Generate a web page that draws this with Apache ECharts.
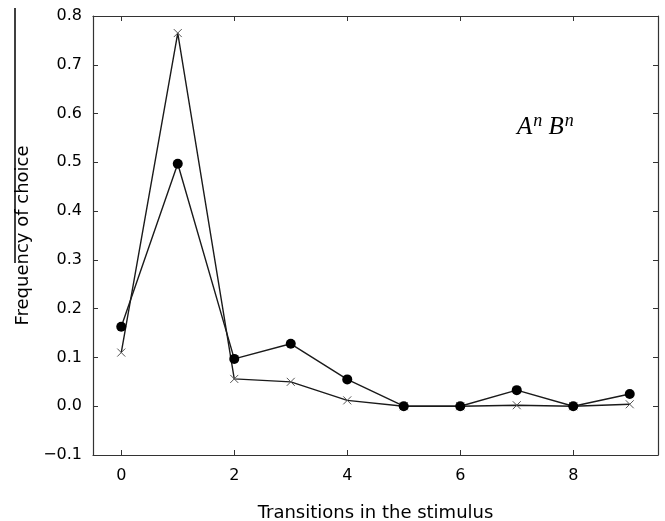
<!DOCTYPE html>
<html>
<head>
<meta charset="utf-8">
<script src="https://cdn.jsdelivr.net/npm/echarts@6/dist/echarts.min.js"></script>
<style>
  html, body { margin: 0; padding: 0; background: #fff; }
  #chart { width: 665px; height: 521px; }
</style>
</head>
<body>
<div id="chart"></div>
<script>
// transitions 0..9
var transitions = [0, 1, 2, 3, 4, 5, 6, 7, 8, 9];
// filled dots
var dotValues = [0.163, 0.497, 0.097, 0.128, 0.055, 0.0, 0.0, 0.033, 0.0, 0.025];
// crosses
var crossValues = [0.11, 0.765, 0.056, 0.05, 0.012, 0.0, 0.0, 0.002, 0.0, 0.004];
var xTicks = [0, 2, 4, 6, 8];

function pairs(vals) {
  return transitions.map(function (t, i) { return [t, vals[i]]; });
}

var chart = echarts.init(document.getElementById("chart"));
var font = "DejaVu Sans";
var frame = { show: true, onZero: false, lineStyle: { color: "#333", width: 1.2 } };

chart.setOption({
  animation: false,
  grid: { left: 93, right: 7, top: 16, bottom: 66, outerBoundsMode: "none", containLabel: false },
  xAxis: [
    {
      type: "value",
      min: -0.5,
      max: 9.5,
      axisLine: frame,
      splitLine: { show: false },
      axisTick: { show: true, inside: true, length: 5, customValues: xTicks, lineStyle: { color: "#333" } },
      axisLabel: { customValues: xTicks, color: "#000", fontFamily: font, fontSize: 16, margin: 13 },
      name: "Transitions in the stimulus",
      nameLocation: "middle",
      nameGap: 49,
      nameTextStyle: { color: "#000", fontFamily: font, fontSize: 18 }
    },
    {
      type: "value",
      position: "top",
      min: -0.5,
      max: 9.5,
      axisLine: frame,
      splitLine: { show: false },
      axisTick: { show: true, inside: true, length: 5, customValues: xTicks, lineStyle: { color: "#333" } },
      axisLabel: { show: false }
    }
  ],
  yAxis: [
    {
      type: "value",
      min: -0.1,
      max: 0.8,
      interval: 0.1,
      axisLine: frame,
      splitLine: { show: false },
      axisTick: { show: true, inside: true, length: 5, lineStyle: { color: "#333" } },
      axisLabel: {
        color: "#000", fontFamily: font, fontSize: 16, margin: 11,
        formatter: function (v) { return v < 0 ? "\u2212" + Math.abs(v).toFixed(1) : v.toFixed(1); }
      },
      name: "Frequency of choice",
      nameLocation: "middle",
      nameGap: 61,
      nameTextStyle: { color: "#000", fontFamily: font, fontSize: 18 }
    },
    {
      type: "value",
      position: "right",
      min: -0.1,
      max: 0.8,
      interval: 0.1,
      axisLine: frame,
      splitLine: { show: false },
      axisTick: { show: true, inside: true, length: 5, lineStyle: { color: "#333" } },
      axisLabel: { show: false }
    }
  ],
  series: [
    {
      type: "line",
      xAxisIndex: 0,
      yAxisIndex: 0,
      data: pairs(crossValues),
      symbol: "path://M0,0L10,10M10,0L0,10",
      symbolSize: 8,
      itemStyle: { color: "transparent", borderColor: "#555", borderWidth: 1 },
      lineStyle: { color: "#1a1a1a", width: 1.4 },
      z: 2
    },
    {
      type: "line",
      xAxisIndex: 0,
      yAxisIndex: 0,
      data: pairs(dotValues),
      symbol: "circle",
      symbolSize: 10,
      itemStyle: { color: "#000", borderWidth: 0 },
      lineStyle: { color: "#1a1a1a", width: 1.4 },
      z: 3
    }
  ],
  graphic: [
    {
      type: "text",
      left: 517,
      top: 112,
      style: {
        text: "{b|A}{s|n}{b| B}{s|n}",
        rich: {
          b: { fontFamily: "Liberation Serif", fontStyle: "italic", fontSize: 25, fill: "#000" },
          s: { fontFamily: "Liberation Serif", fontStyle: "italic", fontSize: 18, fill: "#000", verticalAlign: "top", padding: [0, 0, 12, 1] }
        }
      }
    },
    {
      type: "line",
      shape: { x1: 15, y1: 8, x2: 15, y2: 263 },
      style: { stroke: "#000", lineWidth: 1.5 }
    }
  ]
});
</script>
</body>
</html>
